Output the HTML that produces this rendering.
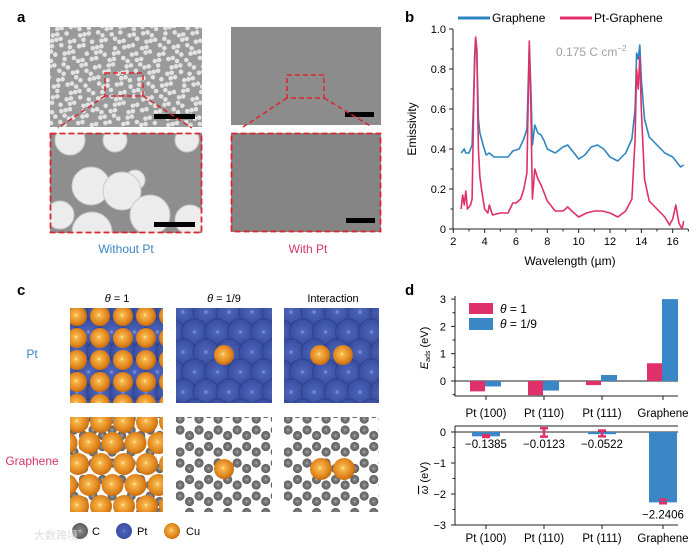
<!DOCTYPE html>
<html><head><meta charset="utf-8">
<style>
html,body{margin:0;padding:0;background:#fff;}
svg{display:block;font-family:"Liberation Sans",Arial,sans-serif;}
</style></head>
<body>
<svg id="fig" width="700" height="553" viewBox="0 0 700 553" xmlns="http://www.w3.org/2000/svg">
<defs>
  <radialGradient id="cu" cx="0.45" cy="0.45" r="0.6">
    <stop offset="0" stop-color="#fff3b0"/><stop offset="0.15" stop-color="#f7b64a"/><stop offset="0.7" stop-color="#e0831c"/><stop offset="1" stop-color="#b8650e"/>
  </radialGradient>
  <radialGradient id="pt" cx="0.5" cy="0.5" r="0.6">
    <stop offset="0" stop-color="#8da0e0"/><stop offset="0.15" stop-color="#4a62b8"/><stop offset="1" stop-color="#34489a"/>
  </radialGradient>
  <radialGradient id="cc" cx="0.5" cy="0.5" r="0.6">
    <stop offset="0" stop-color="#c8c8c8"/><stop offset="0.2" stop-color="#808080"/><stop offset="1" stop-color="#555"/>
  </radialGradient>
  <clipPath id="c11"><rect x="70" y="308" width="93" height="95"/></clipPath>
  <clipPath id="c12"><rect x="176" y="308" width="96" height="95"/></clipPath>
  <clipPath id="c13"><rect x="284" y="308" width="95" height="95"/></clipPath>
  <clipPath id="c21"><rect x="70" y="417" width="93" height="95"/></clipPath>
  <clipPath id="c22"><rect x="176" y="417" width="96" height="95"/></clipPath>
  <clipPath id="c23"><rect x="284" y="417" width="95" height="95"/></clipPath>
  <clipPath id="sem1"><rect x="50" y="27" width="152" height="100"/></clipPath>
  <clipPath id="sem2"><rect x="50" y="133" width="152" height="100"/></clipPath>
</defs>

<g>
  <text x="17" y="22" font-size="15" font-weight="bold">a</text>
  <rect x="50" y="27" width="152" height="100" fill="#9a9a9a"/>
  <g id="blobs1" clip-path="url(#sem1)"></g>
  <rect x="154" y="114" width="41" height="5" fill="#000"/>
  <rect x="105" y="73" width="38" height="23" fill="none" stroke="#d9262f" stroke-width="1.5" stroke-dasharray="5,3"/>
  <rect x="50" y="133" width="152" height="100" fill="#8e8e8e"/>
  <g id="blobs2" clip-path="url(#sem2)"></g>
  <rect x="154" y="222" width="41" height="5" fill="#000"/>
  <rect x="50.5" y="133.5" width="151" height="99" fill="none" stroke="#d9262f" stroke-width="1.8" stroke-dasharray="6,3"/>
  <line x1="105" y1="96" x2="58" y2="128" stroke="#d9262f" stroke-width="1.5" stroke-dasharray="5,3"/>
  <line x1="143" y1="96" x2="192" y2="128" stroke="#d9262f" stroke-width="1.5" stroke-dasharray="5,3"/>

  <rect x="231" y="27" width="150" height="98" fill="#8c8c8c"/>
  <rect x="345" y="112" width="29" height="5" fill="#000"/>
  <rect x="287" y="75" width="37" height="23" fill="none" stroke="#d9262f" stroke-width="1.5" stroke-dasharray="5,3"/>
  <line x1="287" y1="98" x2="243" y2="127" stroke="#d9262f" stroke-width="1.5" stroke-dasharray="5,3"/>
  <line x1="324" y1="98" x2="372" y2="127" stroke="#d9262f" stroke-width="1.5" stroke-dasharray="5,3"/>
  <rect x="231" y="133" width="150" height="99" fill="#858585"/>
  <rect x="346" y="218" width="29" height="5" fill="#000"/>
  <rect x="231.5" y="133.5" width="149" height="98" fill="none" stroke="#d9262f" stroke-width="1.8" stroke-dasharray="6,3"/>
  <text x="126" y="253" font-size="12" fill="#3c86c6" text-anchor="middle">Without Pt</text>
  <text x="308" y="253" font-size="12" fill="#d8336c" text-anchor="middle">With Pt</text>
</g>

<g id="panelB">
  <text x="405" y="22" font-size="15" font-weight="bold">b</text>
  <line x1="458" y1="18" x2="490" y2="18" stroke="#2e86c1" stroke-width="3"/>
  <text x="492" y="22" font-size="12">Graphene</text>
  <line x1="560" y1="18" x2="592" y2="18" stroke="#e0306a" stroke-width="3"/>
  <text x="594" y="22" font-size="12">Pt-Graphene</text>
  <text x="556" y="56" font-size="12" fill="#a0a0a0">0.175 C cm<tspan dy="-5" font-size="8">−2</tspan></text>
  <text transform="translate(416,129) rotate(-90)" font-size="12" text-anchor="middle">Emissivity</text>
  <text x="570" y="265" font-size="12" text-anchor="middle">Wavelength (µm)</text>
</g>

<g id="panelC">
  <text x="17" y="295" font-size="15" font-weight="bold">c</text>
  <text x="117" y="302" font-size="11" text-anchor="middle"><tspan font-style="italic">θ</tspan> = 1</text>
  <text x="224" y="302" font-size="11" text-anchor="middle"><tspan font-style="italic">θ</tspan> = 1/9</text>
  <text x="333" y="302" font-size="11" text-anchor="middle">Interaction</text>
  <text x="32" y="358" font-size="12" fill="#3c86c6" text-anchor="middle">Pt</text>
  <text x="32" y="465" font-size="12" fill="#d8336c" text-anchor="middle">Graphene</text>
  <g id="atoms"></g>
  <circle cx="80" cy="531" r="8" fill="url(#cc)"/>
  <text x="92" y="535" font-size="11">C</text>
  <circle cx="124" cy="531" r="8" fill="url(#pt)"/>
  <text x="137" y="535" font-size="11">Pt</text>
  <circle cx="172" cy="531" r="8" fill="url(#cu)"/>
  <text x="186" y="535" font-size="11">Cu</text>
  <text x="34" y="539" font-size="11" fill="#ddd">大数跨境</text>
</g>

<g id="panelD">
  <text x="405" y="295" font-size="15" font-weight="bold">d</text>
  <text transform="translate(428,348) rotate(-90)" font-size="11" text-anchor="middle"><tspan font-style="italic">E</tspan><tspan font-size="7" dy="2">ads</tspan><tspan dy="-2"> (eV)</tspan></text>
  <text transform="translate(428,478) rotate(-90)" font-size="11" text-anchor="middle"><tspan text-decoration="overline" font-style="italic">ω</tspan> (eV)</text>
  <rect x="469" y="303" width="24" height="11" fill="#e0306a"/>
  <text x="500" y="313" font-size="12"><tspan font-style="italic">θ</tspan> = 1</text>
  <rect x="469" y="318" width="24" height="12" fill="#3a87c8"/>
  <text x="500" y="328" font-size="12"><tspan font-style="italic">θ</tspan> = 1/9</text>
</g>
</svg>

<script>
// ---- Panel b data ----
const wlGraphene = [2.5,2.7,2.8,3.0,3.2,3.35,3.42,3.5,3.6,3.7,3.9,4.1,4.3,4.6,5.0,5.5,5.8,6.2,6.5,6.7,6.85,6.95,7.05,7.2,7.4,7.6,7.8,8.0,8.5,9.0,9.3,9.7,10.0,10.4,10.8,11.2,11.6,12.0,12.5,13.0,13.4,13.6,13.7,13.8,13.9,14.0,14.2,14.5,15.0,15.5,16.0,16.5,16.7];
const emGraphene = [0.38,0.40,0.38,0.38,0.42,0.80,0.95,0.90,0.55,0.48,0.42,0.37,0.38,0.36,0.36,0.36,0.39,0.40,0.45,0.50,0.92,0.70,0.42,0.52,0.48,0.47,0.44,0.40,0.38,0.41,0.42,0.38,0.35,0.37,0.41,0.42,0.40,0.36,0.34,0.38,0.45,0.60,0.88,0.85,0.92,0.75,0.55,0.46,0.42,0.38,0.36,0.31,0.32];
const wlPtGraphene = [2.5,2.6,2.7,2.8,2.9,3.1,3.2,3.35,3.42,3.5,3.6,3.7,3.8,4.0,4.2,4.3,4.5,5.0,5.5,5.8,6.0,6.3,6.5,6.7,6.85,6.95,7.05,7.2,7.4,7.6,7.8,8.0,8.5,9.0,9.3,9.7,10.0,10.5,11.0,11.5,12.0,12.5,13.0,13.4,13.6,13.7,13.8,13.9,14.0,14.2,14.5,15.0,15.5,15.8,16.0,16.2,16.4,16.6,16.7];
const emPtGraphene = [0.10,0.17,0.12,0.19,0.10,0.12,0.15,0.85,0.96,0.90,0.40,0.26,0.20,0.10,0.08,0.12,0.07,0.08,0.08,0.13,0.13,0.15,0.20,0.28,0.94,0.60,0.15,0.30,0.25,0.22,0.18,0.14,0.09,0.09,0.11,0.08,0.06,0.08,0.09,0.09,0.08,0.06,0.09,0.15,0.45,0.80,0.70,0.86,0.60,0.25,0.14,0.10,0.06,0.02,0.05,0.12,0.03,0.00,0.04];
const xTicksB = [2,4,6,8,10,12,14,16];
const yTicksB = [0,0.2,0.4,0.6,0.8,1.0];
const yTickLabelsB = ["0","0.2","0.4","0.6","0.8","1.0"];

// ---- Panel d data ----
const categoriesD = ["Pt (100)","Pt (110)","Pt (111)","Graphene"];
const eadsTheta1 = [-0.38,-0.52,-0.15,0.65];
const eadsTheta19 = [-0.20,-0.35,0.22,3.0];
const omegaValues = [-0.1385,-0.0123,-0.0522,-2.2406];
const omegaBlue = [-0.14,0,-0.07,-2.27];
const omegaErrLow = [-0.16,-0.15,-0.14,-2.3];
const omegaErrHigh = [-0.10,0.12,0.05,-2.18];
const omegaLabels = ["−0.1385","−0.0123","−0.0522","−2.2406"];
const yTicksTop = [0,1,2,3];
const yTicksBot = [0,-1,-2,-3];

const NS = "http://www.w3.org/2000/svg";
function mk(tag, attrs, parent){const e=document.createElementNS(NS,tag);for(const k in attrs)e.setAttribute(k,attrs[k]);parent.appendChild(e);return e;}

(function(){
  const g=document.getElementById('panelB');
  const xs=v=>453.3+(v-2)*15.67, ys=v=>229-v*200;
  const ax=mk('path',{d:`M${xs(2)-0.3} 29 V229 H688`,fill:'none',stroke:'#222','stroke-width':1},g);
  
  
  for(let v=3; v<=17; v+=2){mk('line',{x1:xs(v),x2:xs(v),y1:229,y2:231.5,stroke:'#222'},g);}
  xTicksB.forEach(v=>{
    mk('line',{x1:xs(v),x2:xs(v),y1:229,y2:233,stroke:'#222'},g);
    const t=mk('text',{x:xs(v),y:245,'font-size':11,'text-anchor':'middle'},g);t.textContent=v;
    
    
  });
  yTicksB.forEach((v,i)=>{
    mk('line',{x1:449,x2:453,y1:ys(v),y2:ys(v),stroke:'#222'},g);
    if(i<yTicksB.length-1) mk('line',{x1:450.5,x2:453,y1:ys(v+0.1),y2:ys(v+0.1),stroke:'#222'},g);
    const t=mk('text',{x:446,y:ys(v)+4,'font-size':11,'text-anchor':'end'},g);t.textContent=yTickLabelsB[i];
    
    
  });
  const line=(wl,em,col,name)=>{const p=mk('polyline',{points:wl.map((w,i)=>xs(w).toFixed(1)+','+ys(em[i]).toFixed(1)).join(' '),fill:'none',stroke:col,'stroke-width':1.6,'stroke-linejoin':'round'},g);
    
    };
  line(wlGraphene,emGraphene,'#2e86c1','series-graphene');
  line(wlPtGraphene,emPtGraphene,'#e0306a','series-pt-graphene');
})();

(function(){
  const g=document.getElementById('panelD');
  const cx=[486,544,602,663];
  const yt=v=>381-v*27.3, yb=v=>432-v*31;
  mk('path',{d:'M455 296 V396 H678',fill:'none',stroke:'#222'},g);
  mk('line',{x1:455,x2:678,y1:yt(0),y2:yt(0),stroke:'#222'},g);
  yTicksTop.forEach(v=>{mk('line',{x1:451,x2:455,y1:yt(v),y2:yt(v),stroke:'#222'},g);
    mk('line',{x1:452.5,x2:455,y1:yt(v-0.5),y2:yt(v-0.5),stroke:'#222'},g);
    const t=mk('text',{x:446,y:yt(v)+4,'font-size':11,'text-anchor':'end'},g);t.textContent=v;
    
    });
  categoriesD.forEach((c,i)=>{
    mk('line',{x1:cx[i],x2:cx[i],y1:396,y2:400,stroke:'#222'},g);
    const t=mk('text',{x:cx[i],y:417,'font-size':11.5,'text-anchor':'middle'},g);t.textContent=c;
    
    
    const v1=eadsTheta1[i], v2=eadsTheta19[i];
    const b1=mk('rect',{x:cx[i]-16,y:Math.min(yt(0),yt(v1)),width:15,height:Math.abs(yt(v1)-yt(0)),fill:'#e0306a'},g);
    
    
    const b2=mk('rect',{x:cx[i]-1,y:Math.min(yt(0),yt(v2)),width:16,height:Math.abs(yt(v2)-yt(0)),fill:'#3a87c8'},g);
    
    
  });
  mk('path',{d:'M455 426 H678 M455 426 V525 H678',fill:'none',stroke:'#222'},g);
  mk('line',{x1:455,x2:678,y1:yb(0),y2:yb(0),stroke:'#222'},g);
  yTicksBot.forEach(v=>{mk('line',{x1:451,x2:455,y1:yb(v),y2:yb(v),stroke:'#222'},g);
    if(v>-3) mk('line',{x1:452.5,x2:455,y1:yb(v-0.5),y2:yb(v-0.5),stroke:'#222'},g);
    const t=mk('text',{x:446,y:yb(v)+4,'font-size':11,'text-anchor':'end'},g);t.textContent=v===0?'0':'−'+(-v);
    
    });
  categoriesD.forEach((c,i)=>{
    mk('line',{x1:cx[i],x2:cx[i],y1:525,y2:529,stroke:'#222'},g);
    const t=mk('text',{x:cx[i],y:542,'font-size':11.5,'text-anchor':'middle'},g);t.textContent=c;
    
    
    const vb=omegaBlue[i];
    if(vb!==0){const b=mk('rect',{x:cx[i]-14,y:yb(0),width:28,height:yb(vb)-yb(0),fill:'#3a87c8'},g);
      
      }
    const lo=yb(omegaErrLow[i]), hi=yb(omegaErrHigh[i]);
    const e=mk('path',{d:`M${cx[i]-4} ${hi} H${cx[i]+4} M${cx[i]} ${hi} V${lo} M${cx[i]-4} ${lo} H${cx[i]+4}`,stroke:'#e0306a','stroke-width':2.5,fill:'none'},g);
    
    
    const ly = omegaValues[i]<-1 ? yb(omegaBlue[i])+16 : yb(0)+16;
    const t2=mk('text',{x:cx[i],y:ly,'font-size':11.5,'text-anchor':'middle'},g);t2.textContent=omegaLabels[i];
    
    
  });
})();

(function(){
  const g1=document.getElementById('blobs1');
  for(let r=0;r<16;r++)for(let c=0;c<25;c++){
    const x=50+c*6.3+(r%2)*3+((r*7+c*13)%5)-2, y=28+r*6.4+((r*3+c*11)%4)-2;
    if(((r*5+c*3)%7)===0) continue;
    mk('circle',{cx:x,cy:y,r:2.3,fill:'#e2e2e2'},g1);
  }
  const g2=document.getElementById('blobs2');
  [[70,140,15],[115,140,12],[135,180,10],[91,186,19],[122,191,19],[150,215,20],[92,232,20],[60,215,14],[190,220,15],[187,140,12]].forEach(b=>{
    mk('circle',{cx:b[0],cy:b[1],r:b[2],fill:'#ececec',stroke:'#c8c8c8','stroke-width':1},g2);
  });
})();

(function(){
  const g=document.getElementById('atoms');
  const clip=(id,name)=>{const gg=mk('g',{'clip-path':`url(#${id})`},g);return gg;};
  [['c11',70,308],['c12',176,308],['c13',284,308]].forEach((p,k)=>{
    const gg=clip(p[0],'structure-pt-'+(k+1));
    mk('rect',{x:p[1],y:p[2],width:96,height:95,fill:'#3b52a6'},gg);
    for(let r=-1;r<6;r++)for(let c=-1;c<6;c++){
      const x=p[1]+7+c*23+(r%2?11.5:0), y=p[2]+4+r*20;
      mk('circle',{cx:x,cy:y,r:13,fill:'url(#pt)',stroke:'#2e3f86','stroke-width':0.8},gg);
    }
    if(k===0){for(let r=0;r<5;r++)for(let c=0;c<5;c++) mk('circle',{cx:p[1]+7+c*23,cy:p[2]+8+r*22,r:10,fill:'url(#cu)'},gg);}
    if(k===1) mk('circle',{cx:224,cy:355,r:10,fill:'url(#cu)'},gg);
    if(k===2){mk('circle',{cx:320,cy:355,r:10,fill:'url(#cu)'},gg);mk('circle',{cx:343,cy:355,r:10,fill:'url(#cu)'},gg);}
  });
  [['c21',70,417],['c22',176,417],['c23',284,417]].forEach((p,k)=>{
    const gg=clip(p[0],'structure-graphene-'+(k+1));
    mk('rect',{x:p[1],y:p[2],width:96,height:95,fill:'#fff'},gg);
    const a=11;
    for(let r=-1;r<7;r++)for(let c=-1;c<6;c++){
      const bx=p[1]+4+c*a*1.732+(r%2?a*0.866:0), by=p[2]+2+r*a*1.5;
      mk('circle',{cx:bx,cy:by,r:4.6,fill:'url(#cc)'},gg);
      mk('circle',{cx:bx,cy:by+a,r:4.6,fill:'url(#cc)'},gg);
    }
    if(k===0){for(let r=0;r<5;r++)for(let c=0;c<6;c++) mk('circle',{cx:p[1]+8+c*23+(r%2?-11.5:0),cy:p[2]+5+r*21,r:11,fill:'url(#cu)'},gg);}
    if(k===1) mk('circle',{cx:224,cy:469,r:10,fill:'url(#cu)'},gg);
    if(k===2){mk('circle',{cx:321,cy:469,r:11,fill:'url(#cu)'},gg);mk('circle',{cx:344,cy:469,r:11,fill:'url(#cu)'},gg);}
  });
})();
</script>
</body></html>
